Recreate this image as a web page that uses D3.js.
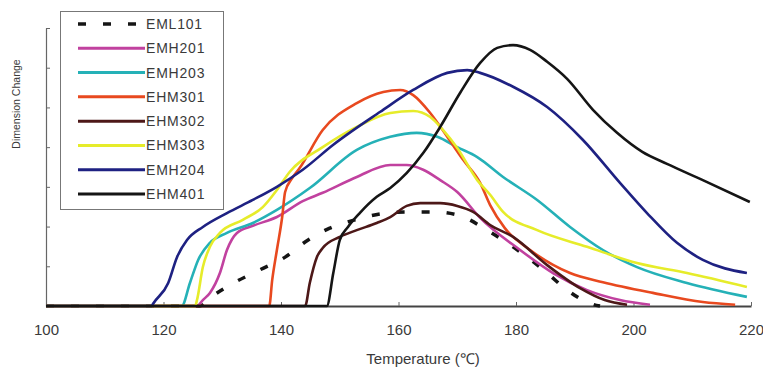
<!DOCTYPE html>
<html>
<head>
<meta charset="utf-8">
<script src="https://cdn.jsdelivr.net/npm/d3@7"></script>
<style>
  body { margin: 0; background: #fff; }
  svg { display: block; font-family: "Liberation Sans", Arial, sans-serif; }
</style>
</head>
<body>
<svg id="chart" width="763" height="368"></svg>
<script>
// data: [temperature degC, dimension change (arb. units)]
const EML101 = [[100,0],[126.2,0],[127.9,0.2],[132.2,0.6],[136.4,0.91],[140.7,1.23],[144.1,1.61],[148.3,1.96],[152.6,2.17],[156.9,2.32],[161.4,2.37],[165.9,2.37],[170.1,2.29],[175.6,1.86],[181.9,1.23],[185.3,0.83],[188.7,0.4],[192.9,0.05],[194.3,0]];
const EMH201 = [[100,0],[125.7,0],[126.7,0.15],[127.9,0.33],[129.6,0.83],[130.8,1.41],[132.5,1.84],[135.2,2.02],[139.3,2.24],[143.7,2.64],[147.1,2.85],[152.9,3.25],[158.6,3.55],[161.4,3.55],[164.2,3.43],[167.1,3.17],[170,2.87],[173.9,2.22],[180.7,1.41],[186.3,0.83],[192.1,0.4],[197.7,0.15],[202.8,0.03]];
const EMH203 = [[100,0],[123.1,0],[124.5,0.58],[125.9,1.16],[127.9,1.59],[130.8,1.84],[135.2,2.09],[139.3,2.42],[144.9,2.97],[152.9,3.93],[158.6,4.26],[163.1,4.36],[166.6,4.26],[170,4.0],[173.4,3.75],[177.8,3.25],[183.6,2.67],[189.2,1.99],[194.8,1.41],[200.6,0.98],[209.1,0.58],[219.3,0.23]];
const EHM301 = [[100,0],[138,0],[138.5,0.65],[139.3,1.41],[140.2,2.24],[140.7,2.87],[141.9,3.22],[143.2,3.48],[147.1,4.43],[152.9,5.11],[157.4,5.39],[160.3,5.44],[162.5,5.31],[165.4,4.86],[168.3,4.26],[171,3.68],[173.9,3.1],[175.6,2.54],[178.1,1.96],[182.4,1.41],[189.2,0.83],[194.8,0.6],[203.3,0.33],[211.8,0.1],[217.3,0.03]];
const EHM302 = [[100,0],[144.1,0],[144.9,0.58],[146.1,1.23],[147.1,1.46],[150,1.74],[152.9,1.91],[156.3,2.09],[158.6,2.24],[161.4,2.52],[163.7,2.59],[167.1,2.59],[170,2.52],[172.7,2.37],[175.6,2.04],[179.5,1.74],[185.3,1.03],[190.9,0.45],[195.1,0.15],[198.9,0.03]];
const EHM303 = [[100,0],[125.4,0],[125.7,0.15],[126.7,0.98],[127.9,1.49],[129.6,1.84],[133.5,2.17],[136.9,2.49],[139.3,2.92],[141.5,3.38],[147.1,4.0],[152.9,4.51],[158.6,4.86],[162.5,4.91],[165.4,4.76],[167.6,4.43],[170,3.98],[173.4,3.17],[175.6,2.8],[177.8,2.37],[183.6,1.91],[192.1,1.49],[200.6,1.08],[209.1,0.83],[219.3,0.48]];
const EMH204 = [[100,0],[118,0],[118.2,0.05],[120.8,0.58],[122.3,1.23],[124,1.66],[126.7,1.99],[130.8,2.34],[135.2,2.67],[139.3,3.0],[143.7,3.43],[148.9,4.06],[156.9,4.89],[162.5,5.44],[168.3,5.87],[171.7,5.94],[173.9,5.87],[179.5,5.52],[185.3,5.01],[191.4,4.18],[197.7,3.1],[202.3,2.34],[207.4,1.59],[211.8,1.16],[219.3,0.83]];
const EHM401 = [[100,0],[147.8,0],[148.9,0.83],[150,1.66],[151.4,1.99],[153.4,2.34],[156.3,2.75],[158.6,2.97],[164.2,3.85],[167.1,4.51],[170.5,5.37],[173.9,6.12],[176.8,6.5],[179.5,6.57],[182.4,6.45],[185.3,6.15],[188.7,5.72],[193.1,4.94],[197.2,4.36],[201.5,3.88],[205.7,3.58],[211.8,3.17],[219.8,2.62]];

const seriesNames = ['EML101', 'EMH201', 'EMH203', 'EHM301', 'EHM302', 'EHM303', 'EMH204', 'EHM401'];
const seriesData = [EML101, EMH201, EMH203, EHM301, EHM302, EHM303, EMH204, EHM401];
const seriesColors = ['#151515', '#c1419f', '#25b1b7', '#e8491f', '#4d1818', '#e6ec2a', '#1e2182', '#151515'];
const xTicks = [100, 120, 140, 160, 180, 200, 220];
const yTicks = [0, 1, 2, 3, 4, 5, 6, 7];

const svg = d3.select('#chart');

const x = d3.scaleLinear().domain([100, 220]).range([46, 751]);
const y = d3.scaleLinear().domain([0, 7]).range([306, 28]);

// axes
const xAxis = svg.append('g')
  .attr('transform', 'translate(0,' + y(0) + ')')
  .call(d3.axisBottom(x).tickValues(xTicks).tickSize(-4).tickPadding(18).tickSizeOuter(0));
xAxis.select('.domain').attr('stroke', '#444').attr('stroke-width', 2);
xAxis.selectAll('.tick line').attr('stroke', '#666');
xAxis.selectAll('text').attr('font-size', 15).attr('fill', '#3a3a3a');

const yAxis = svg.append('g')
  .attr('transform', 'translate(' + x(100) + ',0)')
  .call(d3.axisLeft(y).tickValues(yTicks).tickSize(-4).tickFormat('').tickSizeOuter(0));
yAxis.select('.domain').attr('stroke', '#666').attr('stroke-width', 1.2);
yAxis.selectAll('.tick line').attr('stroke', '#666');

// axis titles
svg.append('text')
  .attr('x', 423).attr('y', 364)
  .attr('text-anchor', 'middle')
  .attr('font-size', 15)
  .attr('fill', '#3a3a3a')
  .text('Temperature (℃)');

svg.append('text')
  .attr('transform', 'translate(20,104) rotate(-90)')
  .attr('text-anchor', 'middle')
  .attr('font-size', 10.5)
  .attr('fill', '#3a3a3a')
  .text('Dimension Change');

// curves
const line = d3.line()
  .x(function (d) { return x(d[0]); })
  .y(function (d) { return y(d[1]); })
  .curve(d3.curveMonotoneX);

svg.append('g').selectAll('path')
  .data(seriesData)
  .enter()
  .append('path')
  .attr('d', line)
  .attr('fill', 'none')
  .attr('stroke', function (d, i) { return seriesColors[i]; })
  .attr('stroke-width', function (d, i) { return i === 0 ? 3.5 : 2.6; })
  .attr('stroke-dasharray', function (d, i) { return i === 0 ? '8,17' : null; })
  .attr('stroke-linejoin', 'round');

// legend
const legend = svg.append('g');
legend.append('rect')
  .attr('x', 60.5).attr('y', 11.5)
  .attr('width', 163).attr('height', 198)
  .attr('fill', '#fff')
  .attr('stroke', '#777');

const rowY = d3.scalePoint().domain(seriesNames).range([24, 194]);

const rows = legend.selectAll('.row')
  .data(seriesNames)
  .enter()
  .append('g')
  .attr('transform', function (d) { return 'translate(0,' + rowY(d) + ')'; });

rows.append('line')
  .attr('x1', 78).attr('x2', 145)
  .attr('stroke', function (d, i) { return seriesColors[i]; })
  .attr('stroke-width', function (d, i) { return i === 0 ? 3.5 : 3; })
  .attr('stroke-dasharray', function (d, i) { return i === 0 ? '8,17' : null; });

rows.append('text')
  .attr('x', 146).attr('y', 5)
  .attr('font-size', 14)
  .attr('letter-spacing', 0.8)
  .attr('fill', '#3a3a3a')
  .text(function (d) { return d; });
</script>
</body>
</html>
